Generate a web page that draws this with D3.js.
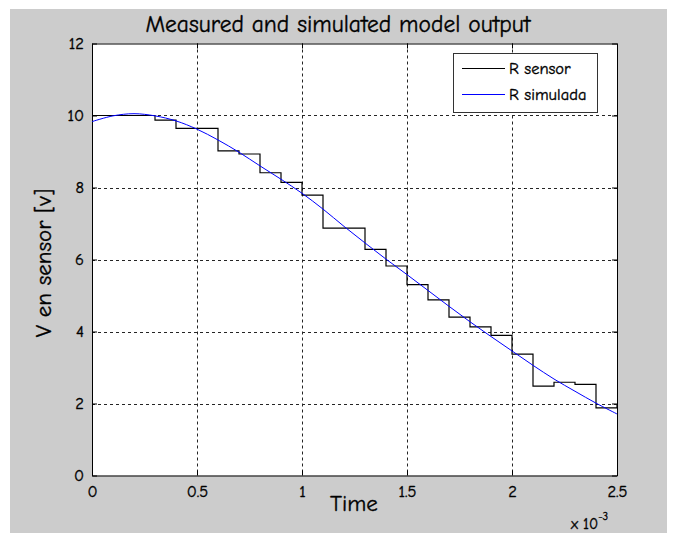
<!DOCTYPE html>
<html>
<head>
<meta charset="utf-8">
<script src="https://cdn.jsdelivr.net/npm/d3@7"></script>
<style>
  html, body { margin: 0; padding: 0; background: #ffffff; }
  svg text { font-family: "Comic Sans MS", "Comic Neue", "DejaVu Sans", sans-serif; fill: #000; stroke: #000; stroke-width: 0.35px; }
</style>
</head>
<body>
<svg id="chart" width="675" height="535"></svg>
<script>
// ---- data (time in units of 1e-3 s) ----
const sensorTime = [0,0.1,0.2,0.3,0.4,0.5,0.6,0.7,0.8,0.9,1.0,1.1,1.2,1.3,1.4,1.5,1.6,1.7,1.8,1.9,2.0,2.1,2.2,2.3,2.4,2.5];
const sensorV    = [10.0,10.0,10.0,9.87,9.64,9.64,9.02,8.93,8.41,8.14,7.79,6.87,6.87,6.28,5.82,5.30,4.88,4.40,4.13,3.89,3.37,2.48,2.59,2.53,1.88,1.96];
const simTime    = [0,0.1,0.2,0.3,0.4,0.5,0.6,0.7,0.8,0.9,1.0,1.1,1.2,1.3,1.4,1.5,1.6,1.7,1.8,1.9,2.0,2.1,2.2,2.3,2.4,2.5];
const simV       = [9.83,9.99,10.05,9.99,9.85,9.62,9.32,8.98,8.60,8.23,7.84,7.40,6.92,6.46,6.01,5.58,5.14,4.70,4.27,3.86,3.46,3.06,2.68,2.34,2.01,1.71];
const xTicks = [0,0.5,1,1.5,2,2.5];
const yTicks = [0,2,4,6,8,10,12];
const xTickLabels = ["0","0.5","1","1.5","2","2.5"];
const seriesNames = ["R sensor","R simulada"];

(function(){
const svg = d3.select("#chart");
const pL = 92, pR = 617, pT = 43.5, pB = 475.5;

// figure background
svg.append("rect").attr("x",10).attr("y",9).attr("width",657).attr("height",524).attr("fill","#cccccc");

const x = d3.scaleLinear().domain([0,2.5]).range([pL,pR]);
const y = d3.scaleLinear().domain([0,12]).range([pB,pT]);

// plot area
svg.append("rect").attr("x",pL).attr("y",pT).attr("width",pR-pL).attr("height",pB-pT).attr("fill","#fff");

// grid
const grid = svg.append("g").attr("stroke","#000").attr("stroke-width",1).attr("stroke-dasharray","3,3").attr("opacity",0.85);
xTicks.slice(1,-1).forEach(t => grid.append("line").attr("x1",Math.round(x(t))+0.5).attr("x2",Math.round(x(t))+0.5).attr("y1",pT).attr("y2",pB));
yTicks.slice(1,-1).forEach(t => grid.append("line").attr("y1",Math.round(y(t))+0.5).attr("y2",Math.round(y(t))+0.5).attr("x1",pL).attr("x2",pR));

// axes (ticks inward, MATLAB style)
const axB = d3.axisBottom(x).tickValues(xTicks).tickFormat((d,i)=>xTickLabels[i]).tickSizeInner(-5).tickSizeOuter(0).tickPadding(10);
const axT = d3.axisTop(x).tickValues(xTicks).tickFormat("").tickSizeInner(-5).tickSizeOuter(0);
const axL = d3.axisLeft(y).tickValues(yTicks).tickFormat(d3.format("d")).tickSizeInner(-5).tickSizeOuter(0).tickPadding(8);
const axR = d3.axisRight(y).tickValues(yTicks).tickFormat("").tickSizeInner(-5).tickSizeOuter(0);

function styleAxis(g){
  g.select(".domain").attr("stroke","#000").attr("stroke-width",1);
  g.selectAll(".tick line").attr("stroke","#000");
  g.selectAll("text").attr("font-size",16.5).attr("font-family",null);
}
svg.append("g").attr("transform",`translate(0,${pB})`).call(axB).call(styleAxis);
svg.append("g").attr("transform",`translate(0,${pT})`).call(axT).call(styleAxis);
svg.append("g").attr("transform",`translate(${pL},0)`).call(axL).call(styleAxis);
svg.append("g").attr("transform",`translate(${pR},0)`).call(axR).call(styleAxis);

// series
const sensorData = sensorTime.map((t,i)=>({t, v: sensorV[i]}));
const simData = simTime.map((t,i)=>({t, v: simV[i]}));

svg.append("path").datum(sensorData)
  .attr("fill","none").attr("stroke","#000").attr("stroke-width",1.2)
  .attr("d", d3.line().x(d=>x(d.t)).y(d=>y(d.v)).curve(d3.curveStepAfter));

svg.append("path").datum(simData)
  .attr("fill","none").attr("stroke","#0000ff").attr("stroke-width",1)
  .attr("d", d3.line().x(d=>x(d.t)).y(d=>y(d.v)).curve(d3.curveCatmullRom));

// legend
const lg = svg.append("g");
lg.append("rect").attr("x",453.5).attr("y",53.5).attr("width",144).attr("height",59).attr("fill","#fff").attr("stroke","#333");
const colors = ["#000","#0000ff"];
seriesNames.forEach((n,i)=>{
  const yy = 68 + i*26;
  lg.append("line").attr("x1",462).attr("x2",505).attr("y1",yy+0.5).attr("y2",yy+0.5).attr("stroke",colors[i]).attr("stroke-width",1);
  lg.append("text").attr("x",509).attr("y",yy+5.5).attr("font-size",16.5).text(n);
});

// titles
svg.append("text").attr("x",338).attr("y",32).attr("text-anchor","middle").attr("font-size",23.5).text("Measured and simulated model output");
svg.append("text").attr("x",354).attr("y",511).attr("text-anchor","middle").attr("font-size",23).text("Time");
svg.append("text").attr("transform","translate(51,263) rotate(-90)").attr("text-anchor","middle").attr("font-size",23).text("V en sensor [v]");

// exponent
const ex = svg.append("text").attr("x",571).attr("y",529).attr("font-size",15);
ex.append("tspan").text("x 10");
ex.append("tspan").attr("dy",-9).attr("font-size",11).text("-3");
})();
</script>
</body>
</html>
